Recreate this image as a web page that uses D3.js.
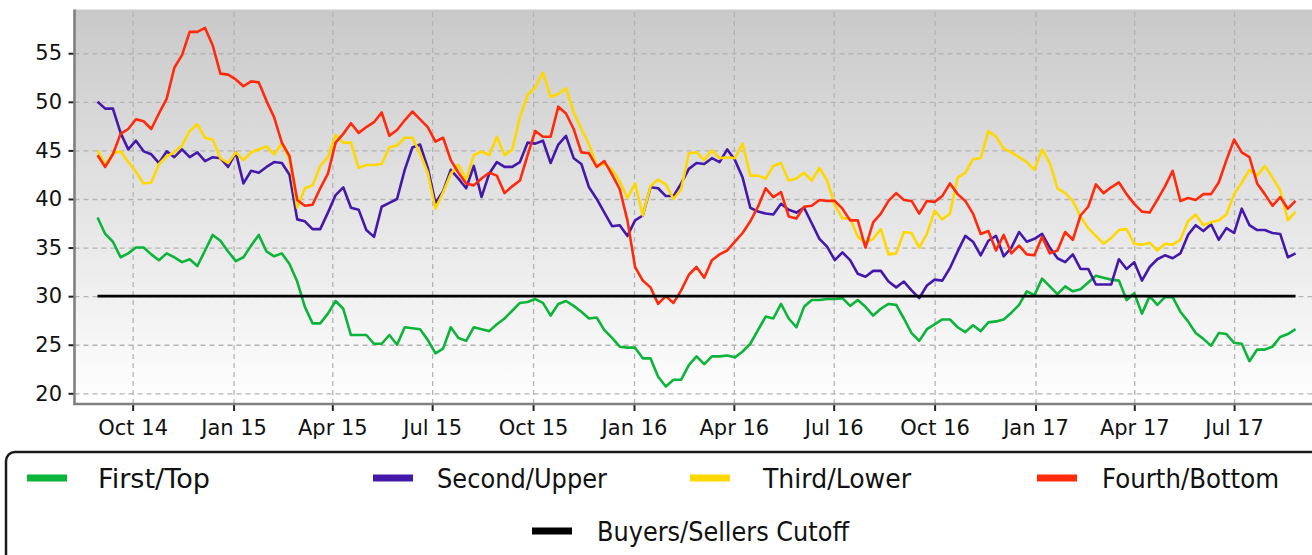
<!DOCTYPE html>
<html>
<head>
<meta charset="utf-8">
<script src="https://cdn.jsdelivr.net/npm/d3@7"></script>
<style>
  body { margin: 0; background: #fff; }
  svg { display: block; font-family: 'DejaVu Sans', sans-serif; }
</style>
</head>
<body>
<svg id="chart" width="1312" height="555"></svg>
<script>
// weekly readings, first week ending 30 Aug 2014
const firstWeek = new Date(2014, 7, 30);

const firstTop = [
  38.1, 36.4, 35.6, 34.0, 34.4, 35.0, 35.0, 34.3, 33.7, 34.4, 34.0, 33.5, 33.8, 33.1, 34.7, 36.3,
  35.7, 34.6, 33.6, 34.0, 35.2, 36.3, 34.6, 34.1, 34.4, 33.3, 31.5, 28.9, 27.2, 27.2, 28.2, 29.5,
  28.7, 26.0, 26.0, 26.0, 25.1, 25.1, 26.0, 25.0, 26.8, 26.7, 26.6, 25.5, 24.1, 24.6, 26.8, 25.7,
  25.4, 26.8, 26.6, 26.4, 27.1, 27.7, 28.5, 29.3, 29.4, 29.7, 29.3, 28.0, 29.2, 29.5, 29.0, 28.4,
  27.7, 27.8, 26.5, 25.7, 24.8, 24.7, 24.7, 23.6, 23.6, 21.7, 20.7, 21.4, 21.4, 22.9, 23.8, 23.0,
  23.8, 23.8, 23.9, 23.7, 24.3, 25.1, 26.5, 27.9, 27.7, 29.2, 27.7, 26.8, 28.9, 29.6, 29.6, 29.7,
  29.7, 29.8, 29.0, 29.6, 28.9, 28.0, 28.7, 29.2, 29.1, 27.7, 26.2, 25.4, 26.6, 27.1, 27.6, 27.6,
  26.8, 26.3, 27.0, 26.4, 27.3, 27.4, 27.6, 28.3, 29.1, 30.5, 30.1, 31.8, 31.0, 30.2, 31.0, 30.5,
  30.7, 31.4, 32.1, 31.9, 31.7, 31.6, 29.6, 30.3, 28.2, 30.0, 29.1, 29.9, 29.9, 28.4, 27.4, 26.2,
  25.6, 24.9, 26.2, 26.1, 25.2, 25.1, 23.3, 24.5, 24.5, 24.8, 25.8, 26.1, 26.6
];

const secondUpper = [
  50.0, 49.3, 49.3, 46.8, 45.1, 46.0, 44.9, 44.6, 43.7, 44.9, 44.3, 45.1, 44.3, 44.8, 43.9, 44.3,
  44.2, 43.3, 44.8, 41.6, 42.9, 42.7, 43.3, 43.8, 43.7, 42.5, 37.9, 37.7, 36.9, 36.9, 38.6, 40.4,
  41.2, 39.1, 38.9, 36.8, 36.1, 39.2, 39.6, 40.0, 43.0, 45.3, 45.6, 43.2, 39.6, 40.8, 43.0, 42.1,
  41.1, 43.4, 40.2, 42.6, 43.8, 43.3, 43.3, 43.8, 45.8, 45.7, 46.0, 43.7, 45.6, 46.5, 44.2, 43.6,
  41.2, 40.0, 38.6, 37.2, 37.3, 36.2, 37.8, 38.3, 41.2, 41.1, 40.3, 40.3, 41.6, 43.1, 43.7, 43.6,
  44.2, 43.8, 45.1, 44.0, 42.2, 39.1, 38.7, 38.5, 38.4, 39.5, 38.9, 38.6, 39.1, 37.5, 35.9, 35.1,
  33.7, 34.5, 33.7, 32.3, 32.0, 32.6, 32.6, 31.5, 30.9, 31.5, 30.6, 29.8, 31.1, 31.7, 31.6, 32.9,
  34.6, 36.2, 35.6, 34.2, 35.7, 36.2, 34.1, 35.0, 36.6, 35.6, 35.9, 36.4, 35.0, 33.9, 33.5, 34.3,
  32.8, 32.8, 31.2, 31.2, 31.2, 33.8, 32.8, 33.5, 31.6, 33.0, 33.8, 34.2, 33.9, 34.4, 36.3, 37.3,
  36.7, 37.4, 35.8, 37.0, 36.5, 39.0, 37.3, 36.8, 36.8, 36.5, 36.4, 34.0, 34.4
];

const thirdLower = [
  45.0, 43.5, 44.7, 44.9, 43.8, 42.8, 41.6, 41.7, 43.6, 44.4, 44.8, 45.5, 47.0, 47.7, 46.3, 46.1,
  44.2, 43.7, 44.8, 44.0, 44.8, 45.1, 45.4, 44.6, 45.7, 44.1, 39.1, 41.1, 41.4, 43.4, 44.3, 46.6,
  45.8, 45.8, 43.2, 43.5, 43.5, 43.6, 45.3, 45.5, 46.3, 46.3, 44.7, 42.7, 39.0, 40.7, 42.6, 43.5,
  42.0, 44.5, 44.9, 44.5, 46.4, 44.5, 45.1, 48.4, 50.7, 51.5, 53.0, 50.5, 50.8, 51.4, 48.9, 47.2,
  45.6, 43.4, 43.6, 43.0, 41.8, 40.1, 41.6, 38.3, 41.3, 42.0, 41.5, 40.0, 41.0, 44.7, 44.8, 44.0,
  45.0, 44.2, 44.3, 44.2, 45.7, 42.4, 42.4, 42.1, 43.4, 43.7, 41.9, 42.1, 42.7, 41.9, 43.2, 41.9,
  39.4, 38.0, 38.0, 36.1, 35.5, 35.9, 36.9, 34.3, 34.4, 36.6, 36.5, 35.0, 36.4, 38.8, 37.9, 38.5,
  42.2, 42.7, 44.1, 44.2, 47.0, 46.4, 45.2, 44.8, 44.3, 43.8, 43.0, 45.1, 43.7, 41.1, 40.6, 39.8,
  38.2, 37.0, 36.2, 35.4, 36.0, 36.8, 36.9, 35.4, 35.3, 35.5, 34.7, 35.4, 35.3, 35.8, 37.7, 38.4,
  37.3, 37.6, 37.8, 38.4, 40.5, 41.7, 43.0, 42.4, 43.4, 42.2, 40.9, 37.8, 38.7
];

const fourthBottom = [
  44.5, 43.3, 44.6, 46.7, 47.2, 48.2, 48.0, 47.2, 48.8, 50.3, 53.5, 54.8, 57.2, 57.2, 57.6, 55.8,
  52.9, 52.8, 52.3, 51.6, 52.1, 52.0, 50.1, 48.4, 45.8, 44.4, 39.9, 39.3, 39.4, 41.1, 42.6, 45.8,
  46.7, 47.8, 46.8, 47.4, 47.9, 48.9, 46.5, 47.1, 48.1, 49.0, 48.2, 47.4, 45.9, 46.3, 44.0, 42.7,
  41.6, 41.4, 42.1, 42.7, 42.4, 40.6, 41.3, 41.9, 44.5, 47.0, 46.4, 46.4, 49.5, 48.8, 47.2, 44.8,
  44.7, 43.3, 43.9, 42.5, 41.0, 37.8, 33.0, 31.6, 30.9, 29.2, 30.0, 29.3, 30.6, 32.2, 33.0, 31.9,
  33.7, 34.3, 34.7, 35.6, 36.5, 37.7, 39.2, 41.1, 40.2, 40.7, 38.2, 38.0, 39.2, 39.3, 39.9, 39.8,
  39.8, 39.0, 37.8, 37.8, 35.0, 37.6, 38.5, 39.8, 40.6, 39.9, 39.8, 38.5, 39.8, 39.7, 40.3, 41.6,
  40.5, 39.8, 38.5, 36.4, 36.7, 34.7, 36.3, 34.4, 35.2, 34.3, 34.2, 36.1, 34.4, 34.7, 36.6, 35.8,
  38.3, 39.2, 41.5, 40.6, 41.2, 41.7, 40.5, 39.5, 38.7, 38.6, 39.9, 41.3, 42.9, 39.8, 40.1, 39.9,
  40.5, 40.5, 41.7, 44.0, 46.1, 44.8, 44.3, 41.6, 40.5, 39.3, 40.2, 39.0, 39.8
];

const cutoffValue = 30;
const yTickValues = [20, 25, 30, 35, 40, 45, 50, 55];
const seriesNames = ['First/Top', 'Second/Upper', 'Third/Lower', 'Fourth/Bottom', 'Buyers/Sellers Cutoff'];
const seriesColors = ['#0cb43a', '#4419aa', '#ffd800', '#ff2a0c', '#000000'];

const weeks = firstTop.map((v, i) => d3.timeDay.offset(firstWeek, i * 7));
const cutoff = firstTop.map(() => cutoffValue);
const allSeries = [firstTop, secondUpper, thirdLower, fourthBottom, cutoff];

const svg = d3.select('#chart');
const width = +svg.attr('width');

const plotLeft = 74.5, plotTop = 9.5, plotBottom = 404, plotRight = width;

const xScale = d3.scaleTime()
    .domain([new Date(2014, 7, 9), new Date(2017, 8, 10)])
    .range([plotLeft, plotRight]);

const yScale = d3.scaleLinear()
    .domain([18.9, 59.5])
    .range([plotBottom, plotTop]);

// grey to white background
const grad = svg.append('defs').append('linearGradient')
    .attr('id', 'bg')
    .attr('x1', 0).attr('y1', 0).attr('x2', 0).attr('y2', 1);
grad.append('stop').attr('offset', '0%').attr('stop-color', '#c9c9c9');
grad.append('stop').attr('offset', '100%').attr('stop-color', '#ffffff');

svg.append('rect')
    .attr('x', plotLeft)
    .attr('y', plotTop)
    .attr('width', plotRight - plotLeft)
    .attr('height', plotBottom - plotTop)
    .attr('fill', 'url(#bg)');

const monthTicks = d3.timeMonth.every(3);

// dashed grid
svg.append('g')
    .attr('transform', `translate(${plotLeft},0)`)
    .call(d3.axisLeft(yScale).tickValues(yTickValues).tickSize(-(plotRight - plotLeft)).tickFormat(''))
    .call(g => g.select('.domain').remove())
    .selectAll('line')
    .attr('stroke', '#b4b4b4')
    .attr('stroke-width', 1.3)
    .attr('stroke-dasharray', '5,4');

svg.append('g')
    .attr('transform', `translate(0,${plotBottom})`)
    .call(d3.axisBottom(xScale).ticks(monthTicks).tickSize(-(plotBottom - plotTop)).tickFormat(''))
    .call(g => g.select('.domain').remove())
    .selectAll('line')
    .attr('stroke', '#b4b4b4')
    .attr('stroke-width', 1.3)
    .attr('stroke-dasharray', '5,4');

// lines
const line = d3.line()
    .x((d, i) => xScale(weeks[i]))
    .y(d => yScale(d));

svg.append('g')
    .selectAll('path')
    .data(allSeries)
    .join('path')
    .attr('d', line)
    .attr('fill', 'none')
    .attr('stroke', (d, i) => seriesColors[i])
    .attr('stroke-width', 2.6)
    .attr('stroke-linejoin', 'round');

// axes
const yAxis = svg.append('g')
    .attr('transform', `translate(${plotLeft},0)`)
    .call(d3.axisLeft(yScale).tickValues(yTickValues).tickSize(6).tickPadding(6.5));
yAxis.select('.domain').remove();
yAxis.selectAll('line').attr('stroke', '#222').attr('stroke-width', 2);
yAxis.selectAll('text').attr('font-size', 21).attr('font-family', 'DejaVu Sans').attr('fill', '#111');

const xAxis = svg.append('g')
    .attr('transform', `translate(0,${plotBottom})`)
    .call(d3.axisBottom(xScale).ticks(monthTicks).tickFormat(d3.timeFormat('%b %y')).tickSize(7).tickPadding(9.5));
xAxis.select('.domain').remove();
xAxis.selectAll('line').attr('stroke', '#222').attr('stroke-width', 2);
xAxis.selectAll('text').attr('font-size', 21).attr('font-family', 'DejaVu Sans').attr('fill', '#111');

svg.append('line')
    .attr('x1', plotLeft).attr('x2', plotLeft)
    .attr('y1', plotTop).attr('y2', plotBottom + 1)
    .attr('stroke', '#808080').attr('stroke-width', 2.6);
svg.append('line')
    .attr('x1', plotLeft - 1).attr('x2', plotRight)
    .attr('y1', plotBottom).attr('y2', plotBottom)
    .attr('stroke', '#808080').attr('stroke-width', 2.6);

// legend
svg.append('rect')
    .attr('x', 6).attr('y', 452)
    .attr('width', 1330).attr('height', 140)
    .attr('rx', 9)
    .attr('fill', '#fff')
    .attr('stroke', '#1a1a1a')
    .attr('stroke-width', 2.5);

const legendPos = [
  { sx: 27, tx: 98, y: 478, w: 112 },
  { sx: 373, tx: 437, y: 478, w: 170 },
  { sx: 690, tx: 763, y: 478, w: 148 },
  { sx: 1037, tx: 1102, y: 478, w: 177 },
  { sx: 532, tx: 597, y: 531, w: 252 }
];

const legend = svg.append('g')
    .selectAll('g')
    .data(seriesNames)
    .join('g');

legend.append('line')
    .attr('x1', (d, i) => legendPos[i].sx)
    .attr('x2', (d, i) => legendPos[i].sx + 40)
    .attr('y1', (d, i) => legendPos[i].y)
    .attr('y2', (d, i) => legendPos[i].y)
    .attr('stroke', (d, i) => seriesColors[i])
    .attr('stroke-width', 7);

legend.append('text')
    .attr('x', (d, i) => legendPos[i].tx)
    .attr('y', (d, i) => legendPos[i].y + 10)
    .attr('font-size', 26)
    .attr('textLength', (d, i) => legendPos[i].w)
    .attr('lengthAdjust', 'spacingAndGlyphs')
    .attr('fill', '#111')
    .text(d => d);
</script>
</body>
</html>
